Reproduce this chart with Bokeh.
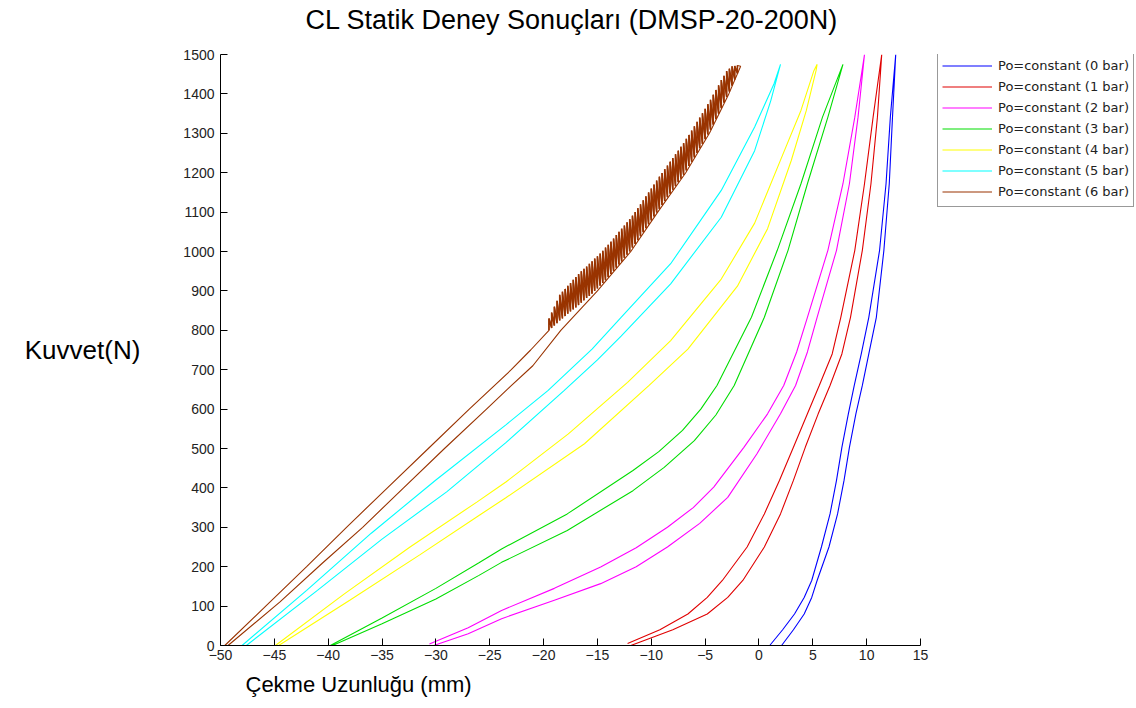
from bokeh.plotting import figure
from bokeh.models import Range1d, FixedTicker, Legend, LegendItem, Title
from bokeh.embed import file_html
from bokeh.resources import INLINE

# ---------------- data ----------------
title_text = "CL Statik Deney Sonuçları (DMSP-20-200N)"
x_label_text = "Çekme Uzunluğu (mm)"
y_label_text = "Kuvvet(N)"
x_ticks = [-50, -45, -40, -35, -30, -25, -20, -15, -10, -5, 0, 5, 10, 15]
y_ticks = [0, 100, 200, 300, 400, 500, 600, 700, 800, 900, 1000, 1100, 1200, 1300, 1400, 1500]

series_names = ["Po=constant (0 bar)", "Po=constant (1 bar)", "Po=constant (2 bar)",
                "Po=constant (3 bar)", "Po=constant (4 bar)", "Po=constant (5 bar)",
                "Po=constant (6 bar)"]
series_colors = ["#0000ff", "#e00000", "#ff00ff", "#00dd00", "#ffff00", "#00ffff", "#993300"]

# 0 bar: left branch (bottom -> top), right branch (bottom -> top)
p0_left_x = [1.0, 2.2, 3.3, 4.2, 4.9, 5.8, 6.6, 7.2, 7.7, 8.3, 8.85, 9.5, 10.2, 11.2, 11.8, 12.2, 12.7]
p0_left_y = [0, 40, 80, 122, 165, 250, 334, 419, 503, 588, 660, 740, 833, 1003, 1172, 1341, 1500]
p0_right_x = [2.1, 3.2, 4.2, 4.9, 5.4, 6.5, 7.3, 7.9, 8.4, 9.0, 9.6, 10.2, 10.9, 11.6, 12.1, 12.4, 12.7]
p0_right_y = [0, 40, 80, 122, 165, 250, 334, 419, 503, 588, 660, 740, 833, 1003, 1172, 1341, 1500]

# 1 bar
p1_left_x = [-12.2, -9.2, -6.6, -4.8, -3.4, -1.1, 0.5, 1.9, 3.2, 4.5, 5.6, 6.8, 7.6, 8.9, 9.8, 10.6, 11.4]
p1_left_y = [5, 40, 80, 122, 165, 250, 334, 419, 503, 588, 660, 740, 833, 1003, 1172, 1341, 1500]
p1_right_x = [-11.9, -8.0, -4.8, -2.9, -1.5, 0.5, 2.0, 3.2, 4.3, 5.5, 6.6, 7.7, 8.5, 9.6, 10.4, 11.0, 11.4]
p1_right_y = [0, 40, 80, 122, 165, 250, 334, 419, 503, 588, 660, 740, 833, 1003, 1172, 1341, 1500]

# 2 bar
p2_left_x = [-30.6, -27.0, -23.9, -19.0, -14.7, -11.4, -8.5, -6.1, -4.2, -1.4, 0.8, 2.3, 3.5, 4.5, 6.4, 7.8, 8.9, 9.8]
p2_left_y = [4, 45, 89, 145, 199, 248, 300, 350, 402, 503, 588, 660, 745, 833, 1003, 1172, 1341, 1500]
p2_right_x = [-30.2, -27.0, -23.9, -19.0, -14.7, -11.4, -8.5, -5.5, -2.9, -0.2, 2.0, 3.4, 4.5, 5.4, 7.2, 8.4, 9.2, 9.8]
p2_right_y = [0, 30, 68, 115, 157, 200, 250, 310, 376, 486, 588, 660, 745, 833, 1003, 1172, 1341, 1500]

# 3 bar
p3_left_x = [-39.8, -35.0, -30.0, -26.0, -23.9, -17.8, -11.7, -9.3, -7.1, -5.4, -3.9, -0.7, 1.7, 3.9, 5.9, 7.8]
p3_left_y = [0, 70, 145, 210, 245, 334, 444, 492, 546, 600, 660, 833, 1003, 1172, 1341, 1475]
p3_right_x = [-39.6, -35.0, -30.0, -26.0, -23.9, -17.8, -11.7, -8.8, -6.0, -4.0, -2.3, 0.5, 2.7, 4.5, 6.4, 7.8]
p3_right_y = [0, 55, 118, 178, 211, 292, 393, 452, 520, 585, 660, 833, 1003, 1172, 1341, 1475]

# 4 bar
p4_left_x = [-44.9, -38.5, -32.4, -26.2, -23.5, -17.7, -12.2, -8.2, -3.5, -0.4, 2.0, 3.9, 5.1, 5.4]
p4_left_y = [0, 131, 250, 364, 415, 537, 668, 774, 930, 1072, 1232, 1358, 1459, 1475]
p4_right_x = [-44.6, -38.0, -31.5, -26.0, -23.5, -16.2, -10.2, -6.6, -2.0, 0.8, 3.0, 4.4, 5.3, 5.4]
p4_right_y = [0, 115, 230, 330, 375, 512, 660, 752, 912, 1058, 1231, 1358, 1459, 1475]

# 5 bar
p5_left_x = [-48.0, -42.0, -36.0, -30.0, -23.5, -19.6, -15.5, -12.8, -8.2, -3.5, -0.4, 1.4, 2.0]
p5_left_y = [0, 140, 285, 420, 560, 647, 752, 833, 969, 1155, 1316, 1426, 1475]
p5_right_x = [-47.6, -41.0, -35.0, -29.0, -23.5, -18.1, -15.0, -12.8, -8.2, -3.5, -0.4, 1.1, 2.0]
p5_right_y = [0, 140, 270, 390, 515, 647, 725, 785, 918, 1087, 1256, 1383, 1475]

# 6 bar: smooth lower part of the left branch, oscillating part (spikes), right branch
p6_left_x = [-49.6, -45.8, -42.0, -38.3, -34.5, -30.7, -26.9, -23.0, -21.2]
p6_left_y = [0, 100, 200, 300, 400, 500, 600, 700, 750]
p6_spike_x = [-19.5, -19.25, -19.0, -18.75, -18.5, -18.25, -18.0, -17.75, -17.5, -17.25,
              -17.0, -16.75, -16.5, -16.25, -16.0, -15.75, -15.5, -15.25, -15.0, -14.75,
              -14.5, -14.25, -14.0, -13.75, -13.5, -13.25, -13.0, -12.75, -12.5, -12.25,
              -12.0, -11.75, -11.5, -11.25, -11.0, -10.75, -10.5, -10.25, -10.0, -9.75,
              -9.5, -9.25, -9.0, -8.75, -8.5, -8.25, -8.0, -7.75, -7.5, -7.25,
              -7.0, -6.75, -6.5, -6.25, -6.0, -5.75, -5.5, -5.25, -5.0, -4.75,
              -4.5, -4.25, -4.0, -3.75, -3.5, -3.25, -3.0, -2.75, -2.5, -2.25, -2.0]
p6_spike_lo = [800, 806, 812, 818, 825, 830, 836, 842, 848, 853,
               858, 864, 870, 876, 882, 887, 893, 900, 906, 913,
               920, 927, 935, 943, 951, 959, 967, 975, 984, 992,
               1000, 1010, 1019, 1029, 1039, 1049, 1059, 1069, 1079, 1089,
               1099, 1108, 1118, 1128, 1138, 1147, 1157, 1166, 1176, 1185,
               1195, 1206, 1217, 1228, 1239, 1250, 1262, 1273, 1285, 1297,
               1309, 1322, 1336, 1350, 1364, 1378, 1392, 1406, 1421, 1436, 1452]
p6_spike_hi = [830, 845, 860, 875, 890, 898, 905, 913, 920, 928,
               935, 943, 950, 956, 962, 969, 975, 982, 988, 995,
               1002, 1010, 1017, 1025, 1033, 1042, 1050, 1058, 1066, 1074,
               1082, 1091, 1100, 1110, 1120, 1130, 1140, 1150, 1160, 1170,
               1180, 1190, 1199, 1209, 1218, 1228, 1237, 1247, 1256, 1266,
               1275, 1286, 1296, 1307, 1318, 1329, 1340, 1351, 1362, 1374,
               1385, 1398, 1410, 1422, 1435, 1446, 1458, 1464, 1470, 1471, 1472]
p6_right_x = [-49.3, -44.5, -40.5, -36.8, -33.0, -29.2, -25.3, -23.1, -21.0, -18.4, -15.0,
              -11.9, -9.4, -6.8, -4.6, -2.8, -1.7]
p6_right_y = [0, 110, 210, 300, 400, 500, 600, 657, 710, 800, 900,
              1000, 1100, 1200, 1300, 1400, 1470]

# ---------------- layout (pixels) ----------------
W, H = 1134, 706
AX_LEFT, AX_RIGHT, AX_TOP, AX_BOTTOM = 220, 920, 54, 645   # axes box in page pixels
X0, X1 = -50, 15
# frame extends to the right edge so that the legend can sit beside the axes
x_end = X0 + (X1 - X0) * (W - AX_LEFT) / (AX_RIGHT - AX_LEFT)

p = figure(width=W, height=H, output_backend="svg", toolbar_location=None,
           x_range=Range1d(X0, x_end), y_range=Range1d(0, 1500),
           min_border_left=AX_LEFT, min_border_right=0, min_border_top=AX_TOP,
           min_border_bottom=H - AX_BOTTOM)
p.outline_line_color = None
p.grid.visible = False
p.background_fill_color = "white"
p.border_fill_color = "white"

TITLE_PX = 27
p.title.text = title_text
p.title.align = "left"
p.title.offset = 570 - int(19.67 * TITLE_PX / 2) - AX_LEFT
p.title.text_font = "Liberation Sans"
p.title.text_font_size = f"{TITLE_PX}px"
p.title.text_font_style = "normal"
p.title.text_color = "black"
p.title.standoff = 4
# small empty spacer between the title and the axes box
p.add_layout(Title(text=" ", text_font_size="2px", standoff=14), "above")

for ax, ticks in ((p.xaxis, x_ticks), (p.yaxis, y_ticks)):
    ax.ticker = FixedTicker(ticks=ticks)
    ax.minor_tick_line_color = None
    ax.major_tick_in = 7
    ax.major_tick_out = 0
    ax.axis_line_color = "black"
    ax.major_tick_line_color = "black"
    ax.major_label_text_font = "Liberation Sans"
    ax.major_label_text_font_size = "14px"
    ax.major_label_text_color = "#222222"
p.xaxis.major_label_standoff = 4
p.yaxis.major_label_standoff = 6
p.xaxis.bounds = (X0, X1)

yax = p.yaxis[0]
yax.axis_label = y_label_text
yax.axis_label_text_font = "Liberation Sans"
yax.axis_label_text_font_size = "26px"
yax.axis_label_text_font_style = "normal"
yax.axis_label_text_color = "black"
yax.axis_label_standoff = 40
try:
    yax.axis_label_orientation = "horizontal"
except Exception:
    pass

p.add_layout(Title(text=x_label_text, align="left", offset=25,
                   text_font="Liberation Sans", text_font_size="22px",
                   text_font_style="normal", text_color="black", standoff=15), "below")


def loop(left_x, left_y, right_x, right_y):
    return list(left_x) + list(reversed(right_x)), list(left_y) + list(reversed(right_y))


paths = [
    loop(p0_left_x, p0_left_y, p0_right_x, p0_right_y),
    loop(p1_left_x, p1_left_y, p1_right_x, p1_right_y),
    loop(p2_left_x, p2_left_y, p2_right_x, p2_right_y),
    loop(p3_left_x, p3_left_y, p3_right_x, p3_right_y),
    loop(p4_left_x, p4_left_y, p4_right_x, p4_right_y),
    loop(p5_left_x, p5_left_y, p5_right_x, p5_right_y),
]

# 6 bar path with the oscillating segment
spike_x, spike_y = [], []
for sx, lo, hi in zip(p6_spike_x, p6_spike_lo, p6_spike_hi):
    spike_x += [sx, sx]
    spike_y += [lo, hi]
b6x = list(p6_left_x) + spike_x + list(reversed(p6_right_x))
b6y = list(p6_left_y) + spike_y + list(reversed(p6_right_y))
paths.append((b6x, b6y))

items = []
for (xs, ys), name, col in zip(paths, series_names, series_colors):
    r = p.line(xs, ys, line_color=col, line_width=1.1)
    items.append(LegendItem(label=name, renderers=[r]))

# heavier stroke for the dense oscillating band of the 6 bar curve
p.line(spike_x, spike_y, line_color=series_colors[6], line_width=1.6)

legend = Legend(items=items, location=(937 - AX_LEFT, AX_BOTTOM - 207),
                border_line_color="#333333", border_line_width=1,
                background_fill_color="white", background_fill_alpha=1.0,
                label_text_font="DejaVu Sans", label_text_font_size="13px",
                label_text_color="#222222",
                glyph_width=50, glyph_height=21, label_height=21, spacing=0,
                padding=4, margin=0, label_standoff=6)
p.add_layout(legend, "center")

open("out.html", "w").write(file_html(p, INLINE))
